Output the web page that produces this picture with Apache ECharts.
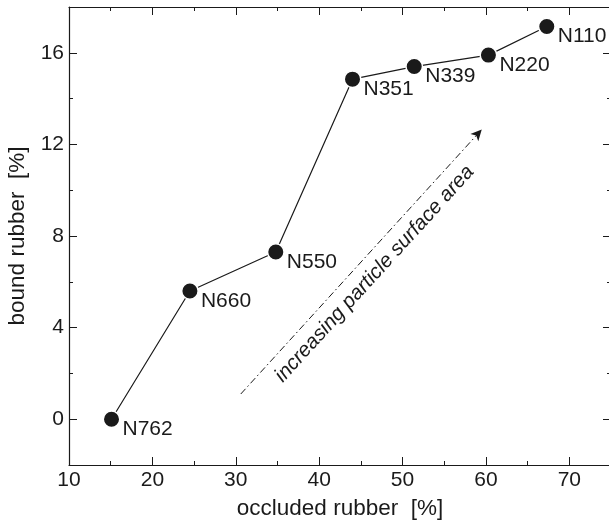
<!DOCTYPE html>
<html>
<head>
<meta charset="utf-8">
<script src="https://cdn.jsdelivr.net/npm/echarts@6/dist/echarts.min.js"></script>
<style>
  html, body { margin: 0; padding: 0; background: #fff; }
  #chart { width: 609px; height: 520px; }
</style>
</head>
<body>
<div id="chart"></div>
<script>
// 炭黑牌号 / 数据
const grades = ['N762', 'N660', 'N550', 'N351', 'N339', 'N220', 'N110'];
const occludedRubber = [15.1, 24.5, 34.8, 44.0, 51.4, 60.3, 67.3];
const boundRubber = [0, 5.6, 7.3, 14.85, 15.4, 15.9, 17.15];

// 坐标轴刻度
const xMajorTicks = [10, 20, 30, 40, 50, 60, 70];
const yMajorTicks = [0, 4, 8, 12, 16];

// 箭头注释
const arrowFrom = [30.6, 1.1];
const arrowTo = [59.5, 12.65];
const arrowText = 'increasing particle surface area';

const FONT = '"Liberation Sans", Arial, sans-serif';
const INK = '#1a1a1a';

const points = occludedRubber.map(function (x, i) {
  return { value: [x, boundRubber[i]], name: grades[i] };
});

// 主刻度轴
function majorAxis(position, min, max, ticks, withLabels, extra) {
  return Object.assign({
    type: 'value',
    position: position,
    min: min,
    max: max,
    axisLine: { show: true, onZero: false, lineStyle: { color: INK, width: 1.2 } },
    axisTick: { show: true, inside: true, length: 8, customValues: ticks, lineStyle: { color: INK } },
    axisLabel: withLabels
      ? { show: true, customValues: ticks, margin: 5, fontSize: 21, color: INK, fontFamily: FONT }
      : { show: false },
    splitLine: { show: false }
  }, extra || {});
}

// 次刻度轴
function minorAxis(position, min, max, step) {
  return {
    type: 'value',
    position: position,
    min: min,
    max: max,
    interval: step,
    axisLine: { show: false, onZero: false },
    axisTick: { show: true, inside: true, length: 4, lineStyle: { color: INK } },
    axisLabel: { show: false },
    splitLine: { show: false }
  };
}

const chart = echarts.init(document.getElementById('chart'));

chart.setOption({
  backgroundColor: '#fff',
  animation: false,
  grid: { left: 69, right: -2, top: 7, bottom: 55, outerBoundsMode: 'none' },
  xAxis: [
    majorAxis('bottom', 10, 75, xMajorTicks, true, {
      name: 'occluded rubber  [%]',
      nameLocation: 'middle',
      nameGap: 32,
      nameTextStyle: { fontSize: 22.5, color: INK, fontFamily: FONT }
    }),
    minorAxis('bottom', 10, 75, 5),
    majorAxis('top', 10, 75, xMajorTicks, false),
    minorAxis('top', 10, 75, 5)
  ],
  yAxis: [
    majorAxis('left', -2, 18, yMajorTicks, true, {
      name: 'bound rubber  [%]',
      nameLocation: 'middle',
      nameGap: 32,
      nameTextStyle: { fontSize: 22.5, color: INK, fontFamily: FONT }
    }),
    minorAxis('left', -2, 18, 2),
    majorAxis('right', -2, 18, yMajorTicks, false),
    minorAxis('right', -2, 18, 2)
  ],
  series: [{
    type: 'line',
    xAxisIndex: 0,
    yAxisIndex: 0,
    data: points,
    symbol: 'circle',
    symbolSize: 16.5,
    itemStyle: { color: INK, borderColor: '#fff', borderWidth: 1.5 },
    lineStyle: { color: INK, width: 1.2 },
    label: {
      show: true,
      position: 'right',
      distance: 2,
      offset: [0, 10],
      formatter: function (p) { return p.name; },
      fontSize: 21,
      color: INK,
      fontFamily: FONT
    },
    markLine: {
      silent: true,
      symbol: ['none', 'arrow'],
      symbolSize: [8, 11],
      lineStyle: { color: INK, width: 1, type: [7, 3, 1.5, 3] },
      label: {
        show: true,
        position: 'insideMiddleBottom',
        distance: 8,
        formatter: arrowText,
        fontSize: 20.5,
        fontStyle: 'italic',
        color: INK,
        fontFamily: FONT
      },
      data: [[{ coord: arrowFrom }, { coord: arrowTo }]]
    }
  }]
});
</script>
</body>
</html>
